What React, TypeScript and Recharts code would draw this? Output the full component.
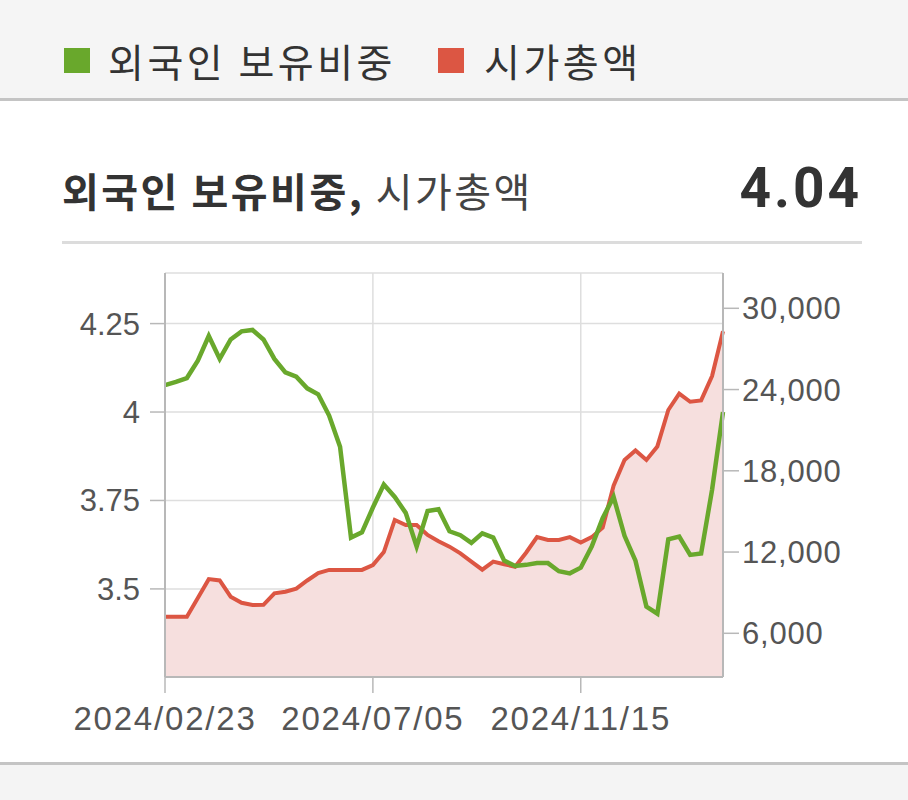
import React from "react";
import {
  ComposedChart,
  Line,
  Area,
  XAxis,
  YAxis,
  CartesianGrid,
} from "recharts";

// 주간 데이터 (2024/02/23 ~ 2025/02/14)
const dates = [
  "2024/02/23", "2024/03/01", "2024/03/08", "2024/03/15", "2024/03/22", "2024/03/29",
  "2024/04/05", "2024/04/12", "2024/04/19", "2024/04/26", "2024/05/03", "2024/05/10",
  "2024/05/17", "2024/05/24", "2024/05/31", "2024/06/07", "2024/06/14", "2024/06/21",
  "2024/06/28", "2024/07/05", "2024/07/12", "2024/07/19", "2024/07/26", "2024/08/02",
  "2024/08/09", "2024/08/16", "2024/08/23", "2024/08/30", "2024/09/06", "2024/09/13",
  "2024/09/20", "2024/09/27", "2024/10/04", "2024/10/11", "2024/10/18", "2024/10/25",
  "2024/11/01", "2024/11/08", "2024/11/15", "2024/11/22", "2024/11/29", "2024/12/06",
  "2024/12/13", "2024/12/20", "2024/12/27", "2025/01/03", "2025/01/10", "2025/01/17",
  "2025/01/24", "2025/01/31", "2025/02/07", "2025/02/14",
];

// 외국인 보유비중 (%)
const foreignRatio = [
  4.076, 4.085, 4.096, 4.145, 4.215, 4.15, 4.205, 4.228, 4.232, 4.205, 4.15, 4.112,
  4.1, 4.067, 4.05, 3.99, 3.902, 3.645, 3.66, 3.73, 3.795, 3.76, 3.715, 3.62, 3.72,
  3.725, 3.663, 3.652, 3.63, 3.657, 3.645, 3.58, 3.565, 3.568, 3.573, 3.573, 3.55,
  3.544, 3.56, 3.62, 3.7, 3.76, 3.65, 3.58, 3.45, 3.43, 3.64, 3.648, 3.596, 3.6,
  3.78, 4.0,
];

// 시가총액
const marketCap = [
  7225, 7225, 7225, 8600, 10000, 9900, 8700, 8250, 8090, 8100, 8950, 9070, 9300, 9900,
  10450, 10680, 10680, 10680, 10680, 11040, 12000, 14370, 14000, 14000, 13260, 12800,
  12400, 11900, 11300, 10700, 11290, 11100, 10920, 11950, 13100, 12890, 12890, 13100,
  12700, 13100, 13800, 16900, 18800, 19500, 18800, 19800, 22490, 23700, 23100, 23200,
  25000, 28300,
];

const xTicks = ["2024/02/23", "2024/07/05", "2024/11/15"];
const leftTicks = [3.5, 3.75, 4, 4.25];
const rightTicks = [6000, 12000, 18000, 24000, 30000];
const latestValue = "4.04";

const GREEN = "#69a82c";
const RED = "#dc5643";

const data = dates.map((d, i) => ({
  date: d,
  ratio: foreignRatio[i],
  cap: marketCap[i],
}));

const tickFont = { fontFamily: '"Liberation Sans", Arial, sans-serif', fill: "#555" };

export default function App() {
  return (
    <div
      style={{
        position: "absolute",
        left: 0,
        top: 0,
        width: 908,
        height: 800,
        background: "#fff",
        overflow: "hidden",
        fontFamily: '"Noto Sans CJK KR", sans-serif',
      }}
    >
      {/* 범례 */}
      <div
        style={{
          position: "absolute",
          left: 0,
          top: 0,
          width: 908,
          height: 98,
          background: "#f5f5f5",
          borderBottom: "3px solid #c4c4c4",
        }}
      >
        <div style={{ position: "absolute", left: 64, top: 48, width: 26, height: 25, background: GREEN }} />
        <div
          style={{
            position: "absolute",
            left: 108,
            top: 34,
            fontSize: 39,
            letterSpacing: 3.5,
            color: "#333",
            lineHeight: "52px",
            whiteSpace: "nowrap",
          }}
        >
          외국인 보유비중
        </div>
        <div style={{ position: "absolute", left: 438, top: 48, width: 26, height: 25, background: RED }} />
        <div
          style={{
            position: "absolute",
            left: 484,
            top: 34,
            fontSize: 39,
            letterSpacing: 3.5,
            color: "#333",
            lineHeight: "52px",
            whiteSpace: "nowrap",
          }}
        >
          시가총액
        </div>
      </div>

      {/* 제목 */}
      <div
        style={{
          position: "absolute",
          left: 62,
          top: 162,
          fontSize: 40,
          letterSpacing: 2.5,
          color: "#333",
          lineHeight: "56px",
          whiteSpace: "nowrap",
        }}
      >
        <span style={{ fontWeight: 700 }}>외국인 보유비중,</span>{" "}
        <span style={{ color: "#444" }}>시가총액</span>
      </div>
      <div
        style={{
          position: "absolute",
          right: 46,
          top: 155,
          fontSize: 55,
          letterSpacing: 3,
          fontWeight: 700,
          color: "#333",
          lineHeight: "66px",
          fontFamily: "Roboto, sans-serif",
        }}
      >
        {latestValue}
      </div>
      <div style={{ position: "absolute", left: 62, top: 241, width: 800, height: 3, background: "#dcdcdc" }} />

      {/* 차트 */}
      <div style={{ position: "absolute", left: 0, top: 240 }}>
        <ComposedChart
          width={908}
          height={520}
          data={data}
          margin={{ top: 33, right: 0, bottom: 23, left: 0 }}
        >
          <CartesianGrid yAxisId="left" stroke="#dedede" strokeWidth={1.5} />
          <XAxis
            dataKey="date"
            ticks={xTicks}
            interval={0}
            height={60}
            tickSize={16}
            tickMargin={14}
            axisLine={{ stroke: "#b8b8b8", strokeWidth: 2 }}
            tickLine={{ stroke: "#b8b8b8", strokeWidth: 1.5 }}
            tick={{ ...tickFont, fontSize: 33, letterSpacing: 1.8 }}
          />
          <XAxis
            xAxisId="top"
            dataKey="date"
            orientation="top"
            height={0}
            tick={false}
            tickLine={false}
            axisLine={{ stroke: "#b8b8b8", strokeWidth: 2 }}
          />
          <YAxis
            yAxisId="left"
            width={165}
            domain={[3.251, 4.393]}
            ticks={leftTicks}
            tickSize={15}
            tickMargin={10}
            axisLine={{ stroke: "#b8b8b8", strokeWidth: 2 }}
            tickLine={{ stroke: "#b8b8b8", strokeWidth: 1.5 }}
            tick={{ ...tickFont, fontSize: 31 }}
          />
          <YAxis
            yAxisId="right"
            orientation="right"
            width={185}
            domain={[2773, 32607]}
            ticks={rightTicks}
            tickSize={16}
            tickMargin={3}
            tickFormatter={(v: number) => v.toLocaleString("en-US")}
            axisLine={{ stroke: "#b8b8b8", strokeWidth: 2 }}
            tickLine={{ stroke: "#b8b8b8", strokeWidth: 1.5 }}
            tick={{ ...tickFont, fontSize: 31, letterSpacing: 0.8 }}
          />
          <Area
            yAxisId="right"
            type="linear"
            dataKey="cap"
            stroke={RED}
            strokeWidth={4}
            fill="#f6dfde"
            fillOpacity={1}
            dot={false}
            activeDot={false}
            isAnimationActive={false}
          />
          <Line
            yAxisId="left"
            type="linear"
            dataKey="ratio"
            stroke={GREEN}
            strokeWidth={4.5}
            dot={false}
            activeDot={false}
            isAnimationActive={false}
          />
        </ComposedChart>
      </div>

      {/* 하단 */}
      <div
        style={{
          position: "absolute",
          left: 0,
          top: 762,
          width: 908,
          height: 38,
          background: "#f4f4f4",
          borderTop: "3px solid #c4c4c4",
        }}
      />
    </div>
  );
}
